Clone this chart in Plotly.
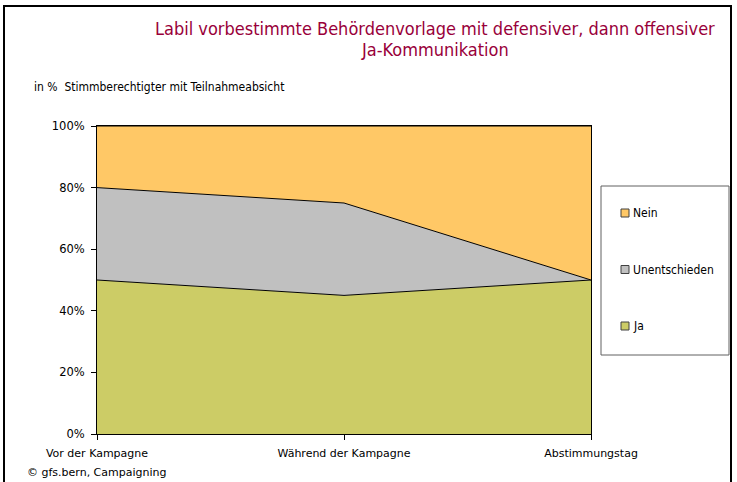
import plotly.graph_objects as go

# ── Data ────────────────────────────────────────────────────────────────────
categories = ["Vor der Kampagne", "Während der Kampagne", "Abstimmungstag"]
ja = [50, 45, 50]
unentschieden = [30, 30, 0]
nein = [20, 25, 50]

_COLORS = {"Ja": "#CCCC66", "Unentschieden": "#C0C0C0", "Nein": "#FFC866"}
_FONT = "Tahoma, 'DejaVu Sans', Verdana, sans-serif"
_COND = "Tahoma, 'DejaVu Sans Condensed', 'DejaVu Sans', sans-serif"

W, H = 737, 482
L, R, T, B = 97, 146, 126, 48
pw, ph = W - L - R, H - T - B


def px_x(x):
    return (x - L) / pw


def px_y(y):
    return (H - B - y) / ph


fig = go.Figure()
for name, vals in [("Ja", ja), ("Unentschieden", unentschieden), ("Nein", nein)]:
    fig.add_trace(go.Scatter(
        x=categories, y=vals, name=name, mode="lines", stackgroup="one",
        line=dict(color="black", width=1), fillcolor=_COLORS[name],
        showlegend=False,
    ))

fig.update_xaxes(
    range=[0, 2], showline=True, linecolor="black", linewidth=1, mirror=True,
    ticks="outside", ticklen=5, tickcolor="black", showgrid=False,
    ticklabelstandoff=4,
    tickfont=dict(family=_FONT, size=11, color="black"),
)
fig.update_yaxes(
    range=[0, 100], dtick=20, ticksuffix="%", showline=True, linecolor="black",
    linewidth=1, mirror=True, ticks="outside", ticklen=5, tickcolor="black",
    showgrid=False, zeroline=False, ticklabelstandoff=4,
    tickfont=dict(family=_FONT, size=11.5, color="black"),
)

# legend box (drawn by hand: small bordered squares like the original)
fig.add_shape(type="rect", xref="paper", yref="paper",
              x0=px_x(601), x1=px_x(729), y0=px_y(355), y1=px_y(186),
              line=dict(color="#606060", width=1), fillcolor="white", layer="below")
for i, name in enumerate(["Nein", "Unentschieden", "Ja"]):
    yc = 213 + i * 56.5
    fig.add_shape(type="rect", xref="paper", yref="paper",
                  x0=px_x(621), x1=px_x(629), y0=px_y(yc + 4), y1=px_y(yc - 4),
                  line=dict(color="#404040", width=1), fillcolor=_COLORS[name])
    fig.add_annotation(x=px_x(631), y=px_y(yc), xref="paper", yref="paper",
                       text=name, showarrow=False, xanchor="left", yanchor="middle",
                       font=dict(family=_COND, size=12, color="black"))

# outer frame
fig.add_shape(type="rect", xref="paper", yref="paper",
              x0=px_x(4), x1=px_x(731), y0=px_y(520), y1=px_y(6),
              line=dict(color="black", width=2), fillcolor="rgba(0,0,0,0)")

title_lines = ["Labil vorbestimmte Behördenvorlage mit defensiver, dann offensiver",
               "Ja-Kommunikation"]
for i, line in enumerate(title_lines):
    fig.add_annotation(
        x=px_x(435), y=px_y(28 + i * 21), xref="paper", yref="paper",
        text=line, showarrow=False,
        font=dict(family=_COND, size=18, color="#99003A"),
        xanchor="center", yanchor="middle",
    )
fig.add_annotation(
    x=px_x(32), y=px_y(87), xref="paper", yref="paper",
    text="in %  Stimmberechtigter mit Teilnahmeabsicht", showarrow=False,
    font=dict(family=_COND, size=12, color="black"),
    xanchor="left", yanchor="middle",
)
fig.add_annotation(
    x=px_x(25), y=px_y(472), xref="paper", yref="paper",
    text="© gfs.bern, Campaigning", showarrow=False,
    font=dict(family=_FONT, size=11, color="black"),
    xanchor="left", yanchor="middle",
)

fig.update_layout(
    width=W, height=H, autosize=False,
    margin=dict(l=L, r=R, t=T, b=B),
    paper_bgcolor="white", plot_bgcolor="white",
    showlegend=False,
)

fig.write_html(
    "out.html",
    config={"responsive": False, "displayModeBar": False},
    post_script="document.body.style.margin='0';document.body.style.overflow='hidden';",
)
